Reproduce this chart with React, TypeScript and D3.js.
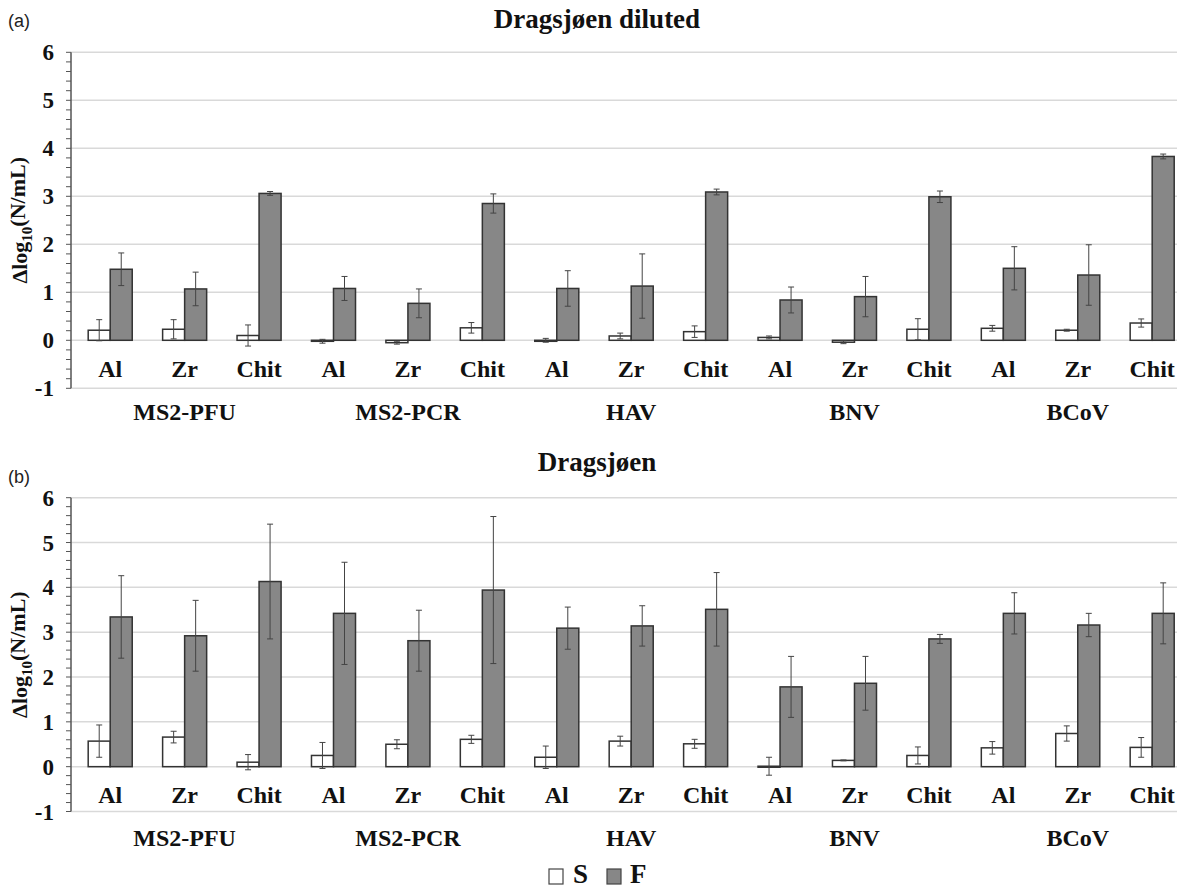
import React from 'react';
import * as d3 from 'd3';

const groups = ['MS2-PFU', 'MS2-PCR', 'HAV', 'BNV', 'BCoV'];
const sorbents = ['Al', 'Zr', 'Chit'];
const series = ['S', 'F'];
const yTicks = [-1, 0, 1, 2, 3, 4, 5, 6];

// Panel (a) Dragsjøen diluted
const sA = [0.21, 0.23, 0.10, -0.02, -0.05, 0.26, 0.00, 0.09, 0.18, 0.06, -0.04, 0.23, 0.25, 0.21, 0.36];
const sAErr = [0.22, 0.20, 0.22, 0.04, 0.03, 0.11, 0.04, 0.06, 0.12, 0.03, 0.03, 0.22, 0.06, 0.02, 0.085];
const fA = [1.48, 1.07, 3.06, 1.08, 0.77, 2.85, 1.08, 1.13, 3.09, 0.84, 0.91, 2.99, 1.50, 1.36, 3.83];
const fAErr = [0.34, 0.35, 0.04, 0.25, 0.30, 0.20, 0.37, 0.67, 0.06, 0.27, 0.42, 0.12, 0.45, 0.63, 0.05];

// Panel (b) Dragsjøen
const sB = [0.57, 0.66, 0.10, 0.25, 0.50, 0.61, 0.21, 0.57, 0.51, 0.01, 0.14, 0.25, 0.42, 0.74, 0.43];
const sBErr = [0.36, 0.13, 0.17, 0.29, 0.10, 0.09, 0.25, 0.11, 0.10, 0.20, 0.01, 0.19, 0.14, 0.17, 0.22];
const fB = [3.34, 2.92, 4.13, 3.42, 2.81, 3.94, 3.09, 3.14, 3.51, 1.78, 1.86, 2.85, 3.42, 3.16, 3.42];
const fBErr = [0.92, 0.79, 1.28, 1.14, 0.68, 1.64, 0.47, 0.45, 0.82, 0.68, 0.60, 0.10, 0.46, 0.26, 0.68];

const W = 1177;
const H = 890;
const SERIF = '"Times New Roman", "Liberation Serif", Tinos, serif';
const SANS = 'Arial, "Liberation Sans", sans-serif';
const AXIS_X = 71;
const F_FILL = '#878787';
const BAR_STROKE = '#333';
const GRID = '#d9d9d9';

const categories = groups.flatMap((g) => sorbents.map((s) => `${g}|${s}`));

const x = d3.scaleBand<string>().domain(categories).range([73, 1189.4]).padding(0);
const xi = d3.scaleBand<string>().domain(series).range([0, x.bandwidth()]).paddingInner(0).paddingOuter(0.69);

type PanelProps = {
  label: string;
  title: string;
  titleY: number;
  labelY: number;
  yTop: number;
  yBottom: number;
  catY: number;
  groupY: number;
  s: number[];
  sErr: number[];
  f: number[];
  fErr: number[];
};

function Panel(p: PanelProps) {
  const y = d3.scaleLinear().domain([-1, 6]).range([p.yBottom, p.yTop]);
  const minor = d3.range(-1, 6.001, 0.2);
  const vals: Record<string, number[]> = { S: p.s, F: p.f };
  const errs: Record<string, number[]> = { S: p.sErr, F: p.fErr };
  const cap = 3;
  const midY = (p.yTop + p.yBottom) / 2;
  return (
    <g>
      <text x={8} y={p.labelY} fontFamily={SANS} fontSize={18} fill="#222">{p.label}</text>
      <text x={597} y={p.titleY} textAnchor="middle" fontFamily={SERIF} fontWeight="bold" fontSize={27} fill="#111">{p.title}</text>
      {yTicks.map((t) => (
        <line key={`g${t}`} x1={AXIS_X} x2={W} y1={y(t)} y2={y(t)} stroke={GRID} strokeWidth={1.5} />
      ))}
      <line x1={AXIS_X} x2={AXIS_X} y1={y(6)} y2={y(-1)} stroke="#555" strokeWidth={1.5} />
      {minor.map((t, i) => (
        <line key={`m${i}`} x1={AXIS_X - 5} x2={AXIS_X} y1={y(t)} y2={y(t)} stroke="#555" strokeWidth={1} />
      ))}
      {yTicks.map((t) => (
        <text key={`t${t}`} x={54} y={y(t)} dy="0.35em" textAnchor="end" fontFamily={SERIF} fontWeight="bold" fontSize={23} fill="#111">{t}</text>
      ))}
      <text transform={`translate(27,${midY}) rotate(-90)`} textAnchor="middle" fontFamily={SERIF} fontWeight="bold" fontSize={22} fill="#111">
        Δlog<tspan fontSize={15} dy="0.3em">10</tspan><tspan dy="-0.3em">(N/mL)</tspan>
      </text>
      {categories.map((c, i) => (
        <g key={c} transform={`translate(${x(c)},0)`}>
          {series.map((sr) => {
            const v = vals[sr][i];
            const e = errs[sr][i];
            const bx = xi(sr) as number;
            const bw = xi.bandwidth();
            const cx = bx + bw / 2;
            return (
              <g key={sr}>
                <rect x={bx} width={bw} y={Math.min(y(v), y(0))} height={Math.max(Math.abs(y(v) - y(0)), 1)}
                  fill={sr === 'S' ? '#fff' : F_FILL} stroke={BAR_STROKE} strokeWidth={1.5} />
                <line x1={cx} x2={cx} y1={y(v + e)} y2={y(v - e)} stroke="#444" strokeWidth={1} />
                <line x1={cx - cap} x2={cx + cap} y1={y(v + e)} y2={y(v + e)} stroke="#444" strokeWidth={1} />
                <line x1={cx - cap} x2={cx + cap} y1={y(v - e)} y2={y(v - e)} stroke="#444" strokeWidth={1} />
              </g>
            );
          })}
          <text x={x.bandwidth() / 2} y={p.catY} textAnchor="middle" fontFamily={SERIF} fontWeight="bold" fontSize={24} fill="#111">
            {c.split('|')[1]}
          </text>
        </g>
      ))}
      {groups.map((g) => (
        <text key={g} x={(x(`${g}|Zr`) as number) + x.bandwidth() / 2} y={p.groupY} textAnchor="middle" fontFamily={SERIF} fontWeight="bold" fontSize={24} fill="#111">{g}</text>
      ))}
    </g>
  );
}

export default function App() {
  return (
    <svg width={W} height={H} style={{ position: 'absolute', left: 0, top: 0, background: '#fff' }}>
      <rect width={W} height={H} fill="#fff" />
      <Panel label="(a)" title="Dragsjøen diluted" titleY={28} labelY={27} yTop={52.3} yBottom={388.3}
        catY={377} groupY={420} s={sA} sErr={sAErr} f={fA} fErr={fAErr} />
      <Panel label="(b)" title="Dragsjøen" titleY={471} labelY={483} yTop={497.7} yBottom={811.5}
        catY={803} groupY={846} s={sB} sErr={sBErr} f={fB} fErr={fBErr} />
      <g>
        <rect x={549} y={869} width={14} height={15} fill="#fff" stroke="#444" strokeWidth={1.2} />
        <text x={573} y={883} fontFamily={SERIF} fontWeight="bold" fontSize={27} fill="#111">S</text>
        <rect x={607} y={869} width={14} height={15} fill={F_FILL} stroke="#444" strokeWidth={1.2} />
        <text x={630} y={883} fontFamily={SERIF} fontWeight="bold" fontSize={27} fill="#111">F</text>
      </g>
    </svg>
  );
}
